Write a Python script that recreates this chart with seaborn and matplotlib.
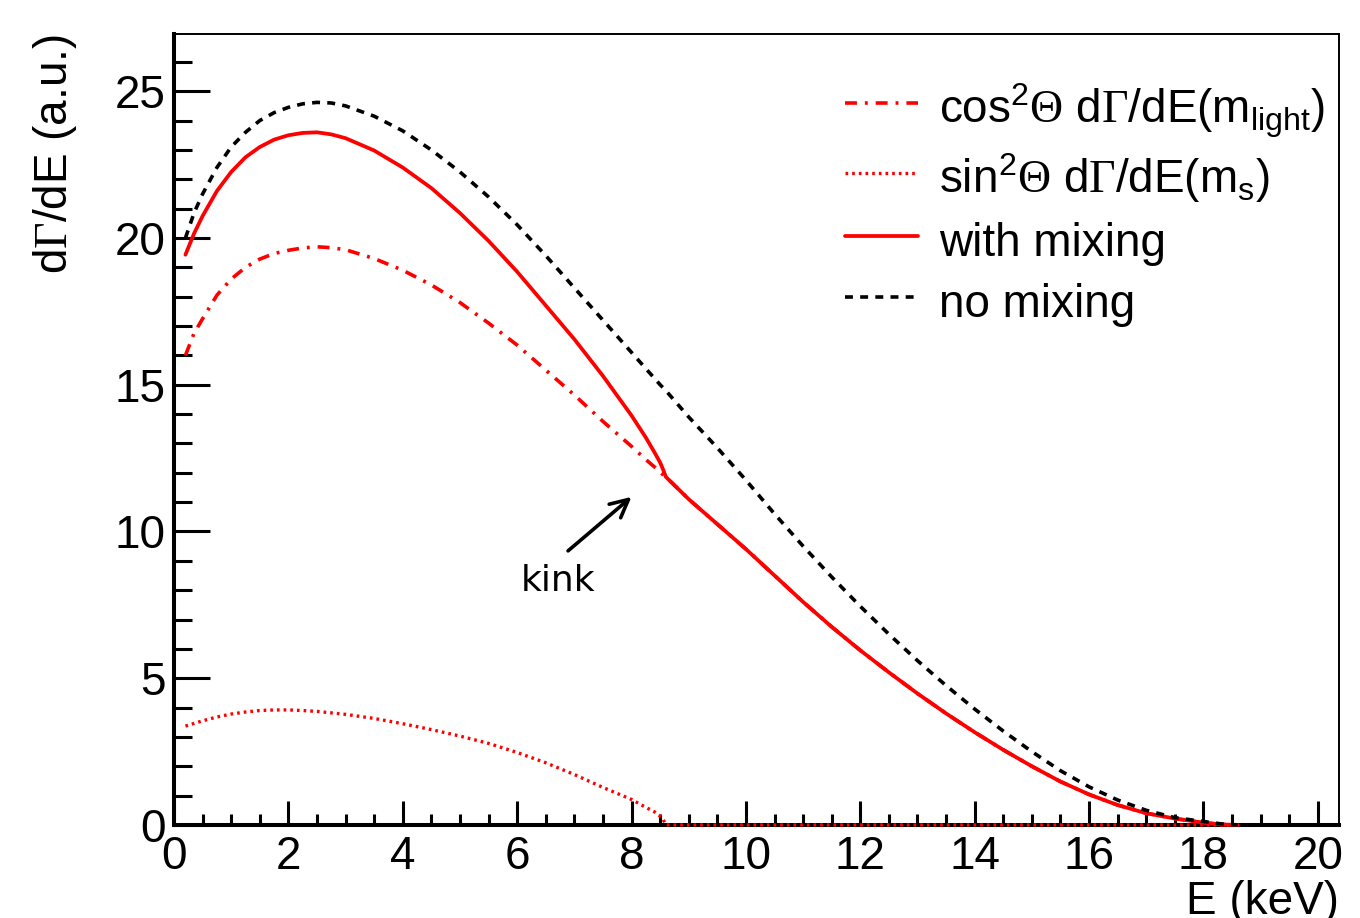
import matplotlib
matplotlib.use("Agg")
import matplotlib.pyplot as plt
from matplotlib.ticker import MultipleLocator
import seaborn as sns

# ---------------- data ----------------
E_pts = [0.2, 0.35, 0.5, 0.75, 1.0, 1.25, 1.5, 1.75, 2.0, 2.25, 2.5, 2.75, 3.0,
         3.5, 4.0, 4.5, 5.0, 5.5, 6.0, 6.5, 7.0, 7.5, 8.0,
         8.25, 8.4, 8.5, 8.55, 8.6,
         9.0, 9.5, 10.0, 10.5, 11.0, 11.5, 12.0, 12.5, 13.0, 13.5, 14.0, 14.5,
         15.0, 15.5, 16.0, 16.5, 17.0, 17.5, 18.0,
         18.3, 18.6]

no_mixing = [20.0, 20.85, 21.5, 22.4, 23.1, 23.6, 24.0, 24.27, 24.45, 24.57,
             24.62, 24.6, 24.5,
             24.15, 23.65, 23.0, 22.25, 21.4, 20.45, 19.4, 18.3, 17.2, 16.1,
             15.55, 15.22, 15.0, 14.9, 14.8,
             13.9, 12.85, 11.75, 10.6, 9.5, 8.45, 7.45, 6.5, 5.6, 4.75, 3.95,
             3.2, 2.5, 1.85, 1.3, 0.85, 0.5, 0.25, 0.12,
             0.04, 0.0]

with_mixing = [19.43, 20.15, 20.75, 21.6, 22.25, 22.75, 23.1, 23.35, 23.5,
               23.58, 23.6, 23.53, 23.4,
               22.98, 22.4, 21.7, 20.85, 19.9, 18.85, 17.7, 16.55, 15.3, 13.95,
               13.2, 12.7, 12.35, 12.12, 11.86,
               11.1, 10.25, 9.4, 8.5, 7.6, 6.75, 5.95, 5.2, 4.48, 3.8, 3.16,
               2.56, 2.0, 1.48, 1.04, 0.68, 0.4, 0.22, 0.08,
               0.02, 0.0]

cos2_light = [16.0, 16.75, 17.25, 18.05, 18.6, 19.0, 19.28, 19.47, 19.58,
              19.66, 19.7, 19.67, 19.6,
              19.3, 18.9, 18.4, 17.8, 17.1, 16.35, 15.5, 14.65, 13.75, 12.9,
              12.45, 12.2, 12.02, 11.94, 11.86,
              11.1, 10.25, 9.4, 8.5, 7.6, 6.75, 5.95, 5.2, 4.48, 3.8, 3.16,
              2.56, 2.0, 1.48, 1.04, 0.68, 0.4, 0.22, 0.08,
              0.02, 0.0]

sin2_heavy = [3.37, 3.46, 3.55, 3.68, 3.78, 3.85, 3.9, 3.92, 3.92, 3.9, 3.87,
              3.82, 3.77,
              3.63, 3.45, 3.25, 3.03, 2.78, 2.47, 2.12, 1.72, 1.28, 0.87,
              0.6, 0.45, 0.3, 0.2, 0.0,
              0.0, 0.0, 0.0, 0.0, 0.0, 0.0, 0.0, 0.0, 0.0, 0.0, 0.0, 0.0,
              0.0, 0.0, 0.0, 0.0, 0.0, 0.0, 0.0,
              0.0, 0.0]

labels = [r"cos$^{\mathsf{2}}\Theta$ d$\Gamma$/dE(m$_{\mathsf{light}}$)",
          r"sin$^{\mathsf{2}}\Theta$ d$\Gamma$/dE(m$_{\mathsf{s}}$)",
          "with mixing",
          "no mixing"]

x_label = "E (keV)"
y_label = r"d$\Gamma$/dE (a.u.)"
kink_label = "kink"

# ---------------- style ----------------
sns.set_style("ticks")
plt.rcParams['font.family'] = ['Liberation Sans', 'DejaVu Sans']
plt.rcParams['mathtext.fontset'] = 'custom'
plt.rcParams['mathtext.rm'] = 'Liberation Serif'
plt.rcParams['mathtext.sf'] = 'Liberation Sans'
plt.rcParams['mathtext.it'] = 'Liberation Sans:italic'
plt.rcParams['mathtext.bf'] = 'Liberation Sans:bold'
plt.rcParams['text.color'] = 'black'
plt.rcParams['axes.labelcolor'] = 'black'
plt.rcParams['xtick.color'] = 'black'
plt.rcParams['ytick.color'] = 'black'
plt.rcParams['xtick.labelcolor'] = 'black'
plt.rcParams['ytick.labelcolor'] = 'black'

FS = 33

fig = plt.figure(figsize=(13.6, 9.18), dpi=100)
ax = fig.add_axes([0.12794, 0.10131, 0.85662, 0.86166])

common = dict(ax=ax, estimator=None, sort=False, errorbar=None, clip_on=False,
              zorder=3)

sns.lineplot(x=E_pts, y=cos2_light, color="#ff0000", linewidth=2.6,
             linestyle=(0, (3.3, 2.2, 0.8, 2.2)), label=labels[0], **common)
sns.lineplot(x=E_pts, y=sin2_heavy, color="#ff0000", linewidth=2.4,
             linestyle=(0, (0.8, 1.2)), label=labels[1], **common)
sns.lineplot(x=E_pts, y=with_mixing, color="#ff0000", linewidth=2.7,
             linestyle="-", label=labels[2], **common)
sns.lineplot(x=E_pts, y=no_mixing, color="black", linewidth=2.6,
             linestyle=(0, (2.2, 2.0)), label=labels[3], **common)

ax.set_xlim(0, 20.37)
ax.set_ylim(0, 26.95)

ax.xaxis.set_major_locator(MultipleLocator(2))
ax.xaxis.set_minor_locator(MultipleLocator(0.5))
ax.yaxis.set_major_locator(MultipleLocator(5))
ax.yaxis.set_minor_locator(MultipleLocator(1))

ax.tick_params(axis='x', which='major', direction='in', length=17, width=2.2,
               labelsize=FS, pad=7, colors='black', top=False)
ax.tick_params(axis='x', which='minor', direction='in', length=8, width=2.2,
               top=False)
ax.tick_params(axis='y', which='major', direction='in', length=26, width=2.2,
               labelsize=FS, pad=6, colors='black', right=False)
ax.tick_params(axis='y', which='minor', direction='in', length=13, width=2.2,
               right=False)

for side in ['left', 'bottom']:
    ax.spines[side].set_linewidth(2.9)
    ax.spines[side].set_color('black')
for side in ['top', 'right']:
    ax.spines[side].set_visible(True)
    ax.spines[side].set_linewidth(1.4)
    ax.spines[side].set_color('black')

ax.set_xlabel(x_label, fontsize=FS, loc='right', labelpad=1, color='black')
ax.set_ylabel(y_label, fontsize=FS, loc='top', labelpad=26, color='black')

ax.annotate("", xy=(8.0, 11.18), xytext=(6.89, 9.34),
            arrowprops=dict(arrowstyle='->', lw=2.6, color='black',
                            mutation_scale=32, shrinkA=0, shrinkB=0))
ax.text(6.71, 8.32, kink_label, ha='center', va='center', fontsize=26,
        family=['DejaVu Sans'], color='black')

leg = ax.legend(loc='upper left', bbox_to_anchor=(0.576, 0.94), frameon=False,
                fontsize=FS, handlelength=1.6, handletextpad=0.45,
                handleheight=1.3, labelspacing=0.24,
                borderpad=0, borderaxespad=0)
for t in leg.get_texts():
    t.set_color('black')

fig.savefig("out.png", dpi=100)
